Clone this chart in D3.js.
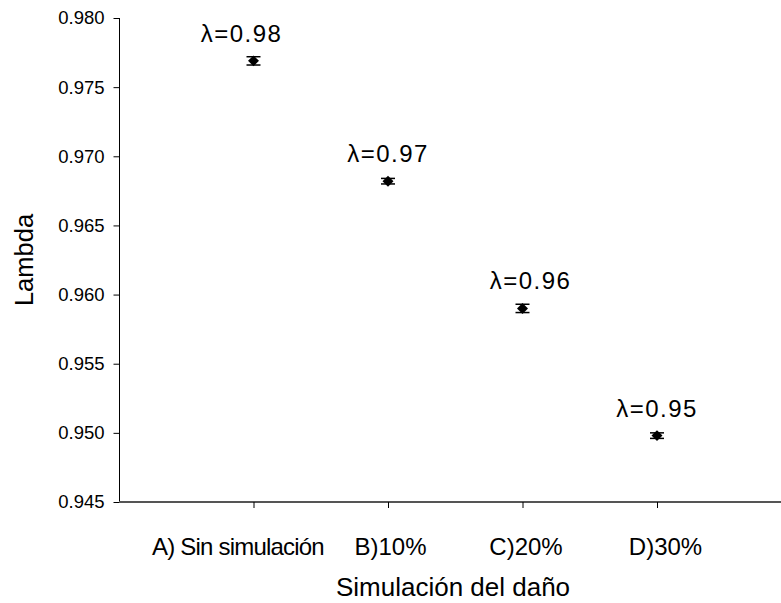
<!DOCTYPE html>
<html>
<head>
<meta charset="utf-8">
<script src="https://cdn.jsdelivr.net/npm/d3@7"></script>
<style>
  body { margin: 0; background: #fff; }
  svg { font-family: "Liberation Sans", Arial, sans-serif; }
</style>
</head>
<body>
<svg id="chart" width="781" height="603"></svg>
<script>
// data
var categories = ["A) Sin simulación", "B)10%", "C)20%", "D)30%"];
var lambdaValues = [0.9769, 0.9682, 0.9590, 0.9498];
var errors = [0.0003, 0.0002, 0.0003, 0.0002];
var pointLabels = ["λ=0.98", "λ=0.97", "λ=0.96", "λ=0.95"];
var yTicks = [0.945, 0.950, 0.955, 0.960, 0.965, 0.970, 0.975, 0.980];

// small hand nudges so the labels sit where the original put them
var catShift = [-16, 2, 3, 8];
var lblShift = [-12, 0, 8, 0];

var svg = d3.select("#chart");

var x = d3.scaleLinear().domain([0, 5]).range([119, 791.5]);
var y = d3.scaleLinear().domain([0.945, 0.980]).range([502, 18]);

// y axis
var yAxis = svg.append("g")
    .attr("transform", "translate(119.5,0)")
    .call(d3.axisLeft(y).tickValues(yTicks).tickFormat(d3.format(".3f")).tickSize(6).tickPadding(9));
yAxis.select(".domain").attr("stroke", "#000").attr("d", "M0," + y(0.980) + "V" + y(0.945));
yAxis.selectAll("text").attr("font-size", 18.5).attr("fill", "#000");

// x axis
var xAxis = svg.append("g")
    .attr("transform", "translate(0," + y(0.945) + ")")
    .call(d3.axisBottom(x).tickValues([1, 2, 3, 4]).tickFormat(function(d) { return categories[d - 1]; }).tickSize(6).tickPadding(30));
xAxis.select(".domain").attr("stroke", "#555").attr("stroke-width", 2).attr("d", "M119,0H781");
xAxis.selectAll(".tick line").attr("stroke", "#000");
xAxis.selectAll("text")
    .attr("font-size", 24)
    .attr("fill", "#000")
    .attr("dx", function(d) { return catShift[d - 1]; })
    .attr("letter-spacing", function(d) { return d == 1 ? -0.8 : 0; });

// axis titles
svg.append("text")
    .attr("x", 453).attr("y", 596)
    .attr("text-anchor", "middle")
    .attr("font-size", 26)
    .text("Simulación del daño");

svg.append("text")
    .attr("transform", "translate(33,260) rotate(-90)")
    .attr("text-anchor", "middle")
    .attr("font-size", 25.5)
    .text("Lambda");

// points
var pts = svg.append("g").selectAll("g")
    .data(lambdaValues)
    .join("g")
    .attr("transform", function(d, i) { return "translate(" + x(i + 1) + ",0)"; });

pts.append("line")
    .attr("y1", function(d, i) { return y(d - errors[i]); })
    .attr("y2", function(d, i) { return y(d + errors[i]); })
    .attr("stroke", "#000").attr("stroke-width", 1.5);

pts.selectAll(".cap")
    .data(function(d, i) { return [d - errors[i], d + errors[i]]; })
    .join("line")
    .attr("class", "cap")
    .attr("x1", -7).attr("x2", 7)
    .attr("y1", function(v) { return y(v); })
    .attr("y2", function(v) { return y(v); })
    .attr("stroke", "#000").attr("stroke-width", 1.5);

pts.append("path")
    .attr("d", d3.symbol().type(d3.symbolSquare).size(60))
    .attr("transform", function(d) { return "translate(0," + y(d) + ") rotate(45)"; })
    .attr("fill", "#000");

pts.append("text")
    .attr("x", function(d, i) { return lblShift[i]; })
    .attr("y", function(d) { return y(d) - 19; })
    .attr("text-anchor", "middle")
    .attr("font-size", 24)
    .attr("letter-spacing", 1.5)
    .text(function(d, i) { return pointLabels[i]; });
</script>
</body>
</html>
